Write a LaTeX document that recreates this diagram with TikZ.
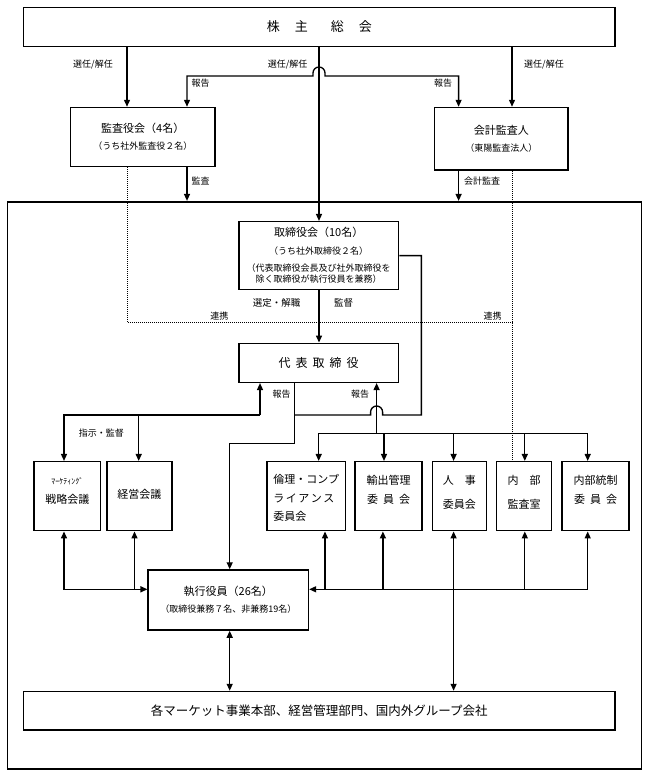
\documentclass[tikz,border=0pt]{standalone}
\usepackage{fontspec}
\setmainfont{Noto Sans CJK JP}
\usetikzlibrary{arrows.meta}
\begin{document}
\begin{tikzpicture}[x=1pt,y=-1pt,
  box/.style={draw, line width=1.5pt, inner sep=0pt, align=center, font=\fontsize{11}{17}\selectfont},
  txt/.style={inner sep=0pt, align=center, font=\fontsize{11}{18.5}\selectfont},
  lbl/.style={inner sep=0pt, font=\fontsize{9}{11}\selectfont},
  conn/.style={line width=1.35pt},
  arr/.style={conn, -{Triangle[length=7pt,width=6pt]}},
  darr/.style={conn, {Triangle[length=7pt,width=6pt]}-{Triangle[length=7pt,width=6pt]}},
  rarr/.style={conn, {Triangle[length=7pt,width=6pt]}-},
  dotl/.style={line width=1pt, dash pattern=on 1pt off 1pt}]
\useasboundingbox (0,0) rectangle (649,776);

% columns and rows
\coordinate (cL) at (127,0);
\coordinate (cC) at (319,0);
\coordinate (cR) at (512,0);
\coordinate (cRL) at (187,0);
\coordinate (cRR) at (458.6,0);
\coordinate (cD) at (294.3,0);
\coordinate (cT) at (421.4,0);
\coordinate (cH) at (376.6,0);
\coordinate (cHL) at (260,0);
\coordinate (c1) at (64,0);
\coordinate (c2t) at (138.7,0);
\coordinate (c2b) at (134.5,0);
\coordinate (c3t) at (318.7,0);
\coordinate (c3b) at (325,0);
\coordinate (c4t) at (384,0);
\coordinate (c4b) at (382.9,0);
\coordinate (c5) at (453.6,0);
\coordinate (c6) at (524.8,0);
\coordinate (c7) at (587.7,0);
\coordinate (cX) at (229.7,0);
\coordinate (rDot) at (0,322.7);
\coordinate (rJ) at (0,415);
\coordinate (rDist) at (0,433.3);
\coordinate (rK) at (0,443.3);
\coordinate (rB) at (0,589.3);

% outer frame
\node[draw, line width=1.6pt, inner sep=0pt, minimum width=634.1pt, minimum height=567.3pt] (frame) at (324.55,485.35) {};

% boxes
\node[box, minimum width=591.4pt, minimum height=39.4pt, font=\fontsize{13}{15}\selectfont] (top) at (319.3,27)
  {株\hspace{15pt}主\hspace{23pt}総\hspace{15pt}会};
\node[box, minimum width=144.8pt, minimum height=59.2pt] (kansa) at (142.8,137.1)
  {監査役会（4名）\\{\fontsize{9}{17}\selectfont（うち社外監査役２名）}};
\node[box, minimum width=133.3pt, minimum height=62.5pt] (kaikei) at (501.25,138.75)
  {会計監査人\\{\fontsize{9}{17}\selectfont（東陽監査法人）}};
\node[box, minimum width=159.8pt, minimum height=67.8pt, font=\fontsize{9}{11}\selectfont] (tori) at (318.7,255.6)
  {{\fontsize{11}{11}\selectfont 取締役会（10名）}\\[7pt]（うち社外取締役２名）\\[6pt]（代表取締役会長及び社外取締役を\\除く取締役が執行役員を兼務）};
\node[box, minimum width=159.8pt, minimum height=39pt, font=\fontsize{12}{14}\selectfont] (daihyo) at (318.7,362.8)
  {代\hspace{5pt}表\hspace{5pt}取\hspace{5pt}締\hspace{5pt}役};
\node[box, minimum width=66.7pt, minimum height=69pt] (mkt) at (67.25,496.2) {};
\node[box, minimum width=65pt, minimum height=69pt] (keiei) at (139.3,496.2) {};
\node[box, minimum width=78.6pt, minimum height=69pt] (rinri) at (306.3,496.2) {};
\node[box, minimum width=67.2pt, minimum height=69pt] (yushutsu) at (388.6,496.2) {};
\node[box, minimum width=53.8pt, minimum height=69pt] (jinji) at (459.4,496.2) {};
\node[box, minimum width=54.6pt, minimum height=69pt] (naibu) at (524,496.2) {};
\node[box, minimum width=67.1pt, minimum height=69pt] (tosei) at (595.55,496.2) {};
\node[box, minimum width=160.2pt, minimum height=60pt] (shikko) at (228.3,600)
  {執行役員（26名）\\{\fontsize{9}{17}\selectfont（取締役兼務７名、非兼務19名）}};
\node[box, minimum width=591.4pt, minimum height=38.5pt, font=\fontsize{12.5}{14}\selectfont] (bottom) at (319.3,710.75)
  {各マーケット事業本部、経営管理部門、国内外グループ会社};

% texts of the lower boxes
\node[txt] (mktT) at (67.25,491) {{\fontsize{8}{8}\selectfont ﾏｰｹﾃｨﾝｸﾞ}\\戦略会議};
\node[txt] (keieiT) at (139.3,494.3) {経営会議};
\node[txt, align=left] (rinriT) at (306.3,498) {倫理・コンプ\\ラ\hspace{1.5pt}イ\hspace{1.5pt}ア\hspace{1.5pt}ン\hspace{1.5pt}ス\\委員会};
\node[txt] (yushutsuT) at (388.6,490) {輸出管理\\委\hspace{5pt}員\hspace{5pt}会};
\node[txt, font=\fontsize{11}{24}\selectfont] (jinjiT) at (459.4,492.2) {人\hspace{11pt}事\\委員会};
\node[txt, font=\fontsize{11}{24}\selectfont] (naibuT) at (524,492.2) {内\hspace{11pt}部\\監査室};
\node[txt] (toseiT) at (595.55,490) {内部統制\\委\hspace{5pt}員\hspace{5pt}会};

% labels
\node[lbl] (l1) at (93,65) {選任/解任};
\node[lbl] (l2) at (287.7,65) {選任/解任};
\node[lbl] (l3) at (544,65) {選任/解任};
\node[lbl] (l4) at (200.7,83.3) {報告};
\node[lbl] (l5) at (443,83.3) {報告};
\node[lbl] (l6) at (200.7,181) {監査};
\node[lbl] (l7) at (482,181) {会計監査};
\node[lbl, font=\fontsize{9.5}{11}\selectfont] (l8) at (276.5,303.3) {選定・解職};
\node[lbl, font=\fontsize{9.5}{11}\selectfont] (l9) at (343.5,303.3) {監督};
\node[lbl] (l10) at (219.4,316) {連携};
\node[lbl] (l11) at (492.5,316) {連携};
\node[lbl] (l12) at (281.5,394) {報告};
\node[lbl] (l13) at (360,394) {報告};
\node[lbl] (l14) at (101.4,433.3) {指示・監督};

% top connectors
\draw[arr] (top.south -| cL) -- (kansa.north -| cL);
\draw[arr] (top.south -| cR) -- (kaikei.north -| cR);
\draw[arr] (top.south -| cC) -- (tori.north -| cC);
\draw[darr] (kansa.north -| cRL) |- (313,76) -- (313,73)
  arc[start angle=180,end angle=0,radius=6pt] -- (325,76) -| (kaikei.north -| cRR);
\draw[arr] (kansa.south -| cRL) -- (frame.north -| cRL);
\draw[arr] (kaikei.south -| cRR) -- (frame.north -| cRR);
\draw[dotl] (kansa.south -| cL) |- (cR |- rDot);
\draw[dotl] (kaikei.south -| cR) -- (naibu.north -| cR);

% board
\draw[arr] (tori.south -| cC) -- (daihyo.north -| cC);
\draw[conn] (tori.east) -| (cT |- rJ) -- (382.6,415) -- (382.6,412)
  arc[start angle=0,end angle=180,radius=6pt] -- (370.6,415) -- (cD |- rJ);
\draw[arr] (daihyo.south -| cD) |- (cX |- rK) -- (shikko.north -| cX);

% left branch
\draw[arr] (cHL |- rJ) -- (daihyo.south -| cHL);
\draw[arr] (cHL |- rJ) -| (mkt.north -| c1);
\draw[arr] (c2t |- rJ) -- (keiei.north -| c2t);

% right branch
\draw[arr] (cH |- rDist) -- (daihyo.south -| cH);
\draw[arr] (cH |- rDist) -| (rinri.north -| c3t);
\draw[arr] (cH |- rDist) -| (tosei.north -| c7);
\draw[arr] (c4t |- rDist) -- (yushutsu.north -| c4t);
\draw[arr] (c5 |- rDist) -- (jinji.north -| c5);
\draw[arr] (c6 |- rDist) -- (naibu.north -| c6);

% lower connectors
\draw[darr] (mkt.south -| c1) |- (shikko.west |- rB);
\draw[rarr] (keiei.south -| c2b) -- (c2b |- rB);
\draw[darr] (tosei.south -| c7) |- (shikko.east |- rB);
\draw[rarr] (rinri.south -| c3b) -- (c3b |- rB);
\draw[rarr] (yushutsu.south -| c4b) -- (c4b |- rB);
\draw[rarr] (naibu.south -| c6) -- (c6 |- rB);
\draw[darr] (jinji.south -| c5) -- (bottom.north -| c5);
\draw[darr] (shikko.south -| cX) -- (bottom.north -| cX);
\end{tikzpicture}
\end{document}
